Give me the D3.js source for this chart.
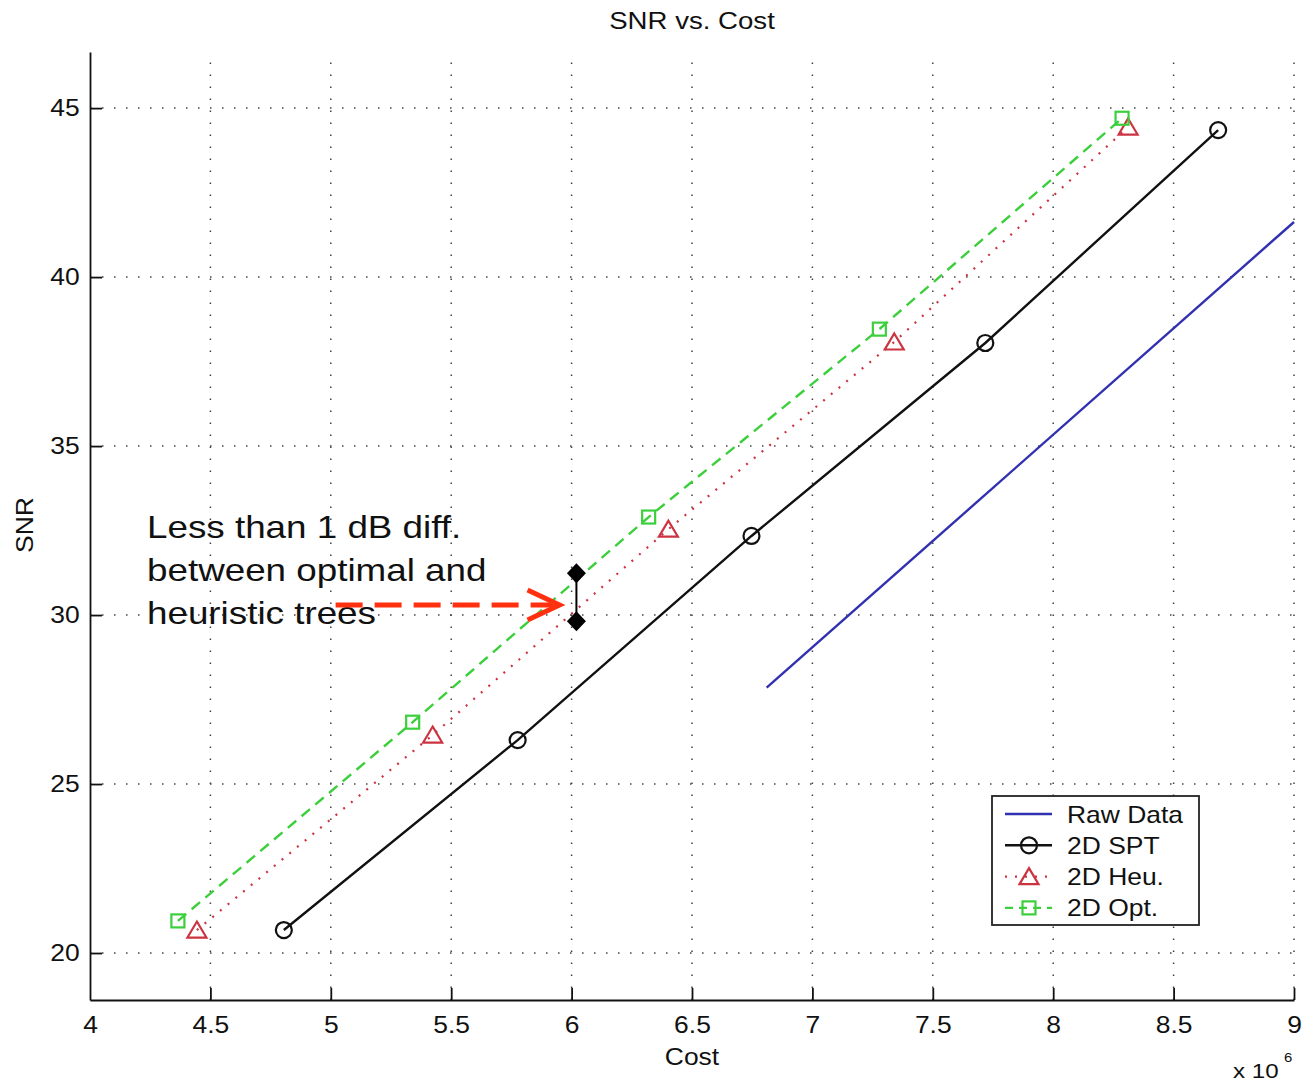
<!DOCTYPE html>
<html>
<head>
<meta charset="utf-8">
<script src="https://cdnjs.cloudflare.com/ajax/libs/d3/7.8.5/d3.min.js"></script>
<style>
  body { margin: 0; background: #fff; }
  text { font-family: "Liberation Sans", Arial, sans-serif; fill: #111; }
</style>
</head>
<body>
<div class="chart"></div>
<script>
  // values (cost in units of 10^6)
  var rawCost = [6.81, 9.0];
  var rawSnr = [27.85, 41.63];
  var sptCost = [4.805, 5.776, 6.747, 7.718, 8.685];
  var sptSnr = [20.68, 26.30, 32.34, 38.05, 44.35];
  var heuCost = [4.444, 5.423, 6.402, 7.340, 8.311];
  var heuSnr = [20.68, 26.45, 32.54, 38.08, 44.44];
  var optCost = [4.365, 5.340, 6.320, 7.278, 8.286];
  var optSnr = [20.95, 26.83, 32.90, 38.46, 44.70];
  var xTicks = [4, 4.5, 5, 5.5, 6, 6.5, 7, 7.5, 8, 8.5, 9];
  var yTicks = [20, 25, 30, 35, 40, 45];
  var legendNames = ["Raw Data", "2D SPT", "2D Heu.", "2D Opt."];
  var noteLines = ["Less than 1 dB diff.", "between optimal and", "heuristic trees"];
  var gapCost = 6.02;
  var gapSnr = [31.24, 29.82];
  var arrowCost = [5.02, 5.95];
  var arrowSnr = 30.3;

  var width = 1304, height = 1082;
  var sx = 1.15; // glyphs in the picture are a bit wider than tall

  var svg = d3.select(".chart").append("svg")
    .attr("width", width)
    .attr("height", height);

  var x = d3.scaleLinear().domain([4, 9]).range([90, 1294]);
  var y = d3.scaleLinear().domain([18.61, 46.66]).range([1000, 52]);

  function label(g, px, py, str, size, anchor) {
    return g.append("text")
      .attr("transform", "translate(" + px + "," + py + ") scale(" + sx + ",1)")
      .attr("text-anchor", anchor || "start")
      .style("font-size", size + "px")
      .text(str);
  }

  // grid
  var grid = svg.append("g").attr("stroke", "#444").attr("stroke-width", 1.5)
    .attr("stroke-dasharray", "1.5,10.5");
  grid.selectAll(".gx").data(xTicks.slice(1)).enter().append("line")
    .attr("x1", function(d) { return x(d); }).attr("x2", function(d) { return x(d); })
    .attr("y1", y.range()[0]).attr("y2", y.range()[1]);
  grid.selectAll(".gy").data(yTicks).enter().append("line")
    .attr("x1", x.range()[0]).attr("x2", x.range()[1])
    .attr("y1", function(d) { return y(d); }).attr("y2", function(d) { return y(d); });

  // axes
  var xAxis = svg.append("g")
    .attr("transform", "translate(0," + y.range()[0] + ")")
    .call(d3.axisBottom(x).tickValues(xTicks).tickSizeInner(-12).tickSizeOuter(0)
      .tickPadding(17).tickFormat(d3.format("")));
  var yAxis = svg.append("g")
    .attr("transform", "translate(" + x.range()[0] + ",0)")
    .call(d3.axisLeft(y).tickValues(yTicks).tickSizeInner(-12).tickSizeOuter(0)
      .tickPadding(9).tickFormat(d3.format("")));
  [xAxis, yAxis].forEach(function(a) {
    a.select(".domain").attr("stroke", "#111").attr("stroke-width", 1.8);
    a.selectAll(".tick line").attr("stroke", "#111").attr("stroke-width", 1.8);
    a.selectAll(".tick text").attr("fill", "#111")
      .style("font-size", "23px")
      .style("font-family", "'Liberation Sans', Arial, sans-serif")
      .attr("transform", "scale(" + sx + ",1)");
  });
  xAxis.select(".tick line").remove();

  // titles
  label(svg, 692, 29, "SNR vs. Cost", 24, "middle");
  label(svg, 692, 1065, "Cost", 23, "middle");
  svg.append("text")
    .attr("transform", "translate(33,525) rotate(-90) scale(" + sx + ",1)")
    .attr("text-anchor", "middle")
    .style("font-size", "23px")
    .text("SNR");
  label(svg, 1233, 1078, "x 10", 21, "start");
  label(svg, 1284, 1062, "6", 13, "start");

  // series
  var line = d3.line()
    .x(function(d) { return x(d[0]); })
    .y(function(d) { return y(d[1]); });
  function pts(c, s) { return c.map(function(v, i) { return [v, s[i]]; }); }

  var raw = pts(rawCost, rawSnr);
  var spt = pts(sptCost, sptSnr);
  var heu = pts(heuCost, heuSnr);
  var opt = pts(optCost, optSnr);

  var styles = [
    { color: "#3030b0", dash: null, w: 2.4 },
    { color: "#111", dash: null, w: 2.4 },
    { color: "#cc3340", dash: "2,8", w: 2.2 },
    { color: "#3ccf3c", dash: "11,7", w: 2.4 }
  ];

  [raw, spt, heu, opt].forEach(function(d, i) {
    svg.append("path").datum(d)
      .attr("d", line)
      .attr("fill", "none")
      .attr("stroke", styles[i].color)
      .attr("stroke-width", styles[i].w)
      .attr("stroke-dasharray", styles[i].dash);
  });

  var triangle = "M0,-8.5L9.5,7.5L-9.5,7.5Z";

  function markCircle(g, px, py) {
    g.append("circle").attr("cx", px).attr("cy", py).attr("r", 8)
      .attr("fill", "none").attr("stroke", "#111").attr("stroke-width", 2.2);
  }
  function markTri(g, px, py) {
    g.append("path").attr("d", triangle)
      .attr("transform", "translate(" + px + "," + py + ")")
      .attr("fill", "none").attr("stroke", "#cc3340").attr("stroke-width", 2.2);
  }
  function markSq(g, px, py) {
    g.append("rect").attr("x", px - 6.5).attr("y", py - 6.5)
      .attr("width", 13).attr("height", 13)
      .attr("fill", "none").attr("stroke", "#3ccf3c").attr("stroke-width", 2.2);
  }

  spt.forEach(function(d) { markCircle(svg, x(d[0]), y(d[1])); });
  heu.forEach(function(d) { markTri(svg, x(d[0]), y(d[1])); });
  opt.forEach(function(d) { markSq(svg, x(d[0]), y(d[1])); });

  // legend
  var lg = svg.append("g");
  lg.append("rect").attr("x", 992).attr("y", 796).attr("width", 207).attr("height", 129)
    .attr("fill", "#fff").attr("stroke", "#222").attr("stroke-width", 1.8);
  var markers = [null, markCircle, markTri, markSq];
  legendNames.forEach(function(name, i) {
    var ly = 814 + i * 31.3;
    lg.append("line").attr("x1", 1005).attr("x2", 1052).attr("y1", ly).attr("y2", ly)
      .attr("stroke", styles[i].color).attr("stroke-width", styles[i].w)
      .attr("stroke-dasharray", i === 3 ? "8,6" : styles[i].dash);
    if (markers[i]) markers[i](lg, 1029, ly);
    label(lg, 1067, ly + 8.5, name, 23, "start");
  });

  // annotation
  var note = svg.append("g");
  noteLines.forEach(function(t, i) {
    label(note, 147, 538 + i * 43, t, 32, "start");
  });
  note.append("line")
    .attr("x1", x(arrowCost[0])).attr("x2", x(arrowCost[1]) - 6)
    .attr("y1", y(arrowSnr)).attr("y2", y(arrowSnr))
    .attr("stroke", "#ff3010").attr("stroke-width", 5)
    .attr("stroke-dasharray", "27,12");
  note.append("path")
    .attr("d", "M" + (x(arrowCost[1]) - 32) + "," + (y(arrowSnr) - 15) +
      "L" + x(arrowCost[1]) + "," + y(arrowSnr) +
      "L" + (x(arrowCost[1]) - 32) + "," + (y(arrowSnr) + 15))
    .attr("fill", "none").attr("stroke", "#ff3010").attr("stroke-width", 5);
  note.append("line")
    .attr("x1", x(gapCost)).attr("x2", x(gapCost))
    .attr("y1", y(gapSnr[0])).attr("y2", y(gapSnr[1]))
    .attr("stroke", "#000").attr("stroke-width", 2);
  gapSnr.forEach(function(v) {
    note.append("path")
      .attr("d", "M0,-10L9.5,0L0,10L-9.5,0Z")
      .attr("transform", "translate(" + x(gapCost) + "," + y(v) + ")")
      .attr("fill", "#000");
  });
</script>
</body>
</html>
